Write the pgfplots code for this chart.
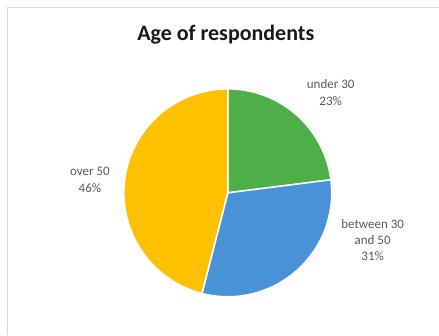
\documentclass[border=0pt]{standalone}
\usepackage{pgfplots}
\pgfplotsset{compat=1.18}
\usepackage{fontspec}
\setmainfont{Carlito}
\definecolor{pgreen}{RGB}{76,175,72}
\definecolor{pblue}{RGB}{74,146,216}
\definecolor{pyellow}{RGB}{255,192,0}
\definecolor{ptext}{RGB}{89,89,89}
\definecolor{pframe}{RGB}{217,217,217}
% shares in percent
\def\vA{23}% under 30
\def\vB{31}% between 30 and 50
\def\vC{46}% over 50
\begin{document}
\begin{tikzpicture}
\begin{axis}[x=1pt,y=1pt,xmin=0,xmax=439,ymin=0,ymax=335,hide axis,clip=false]
\path (axis cs:0,0) rectangle (axis cs:439,335);
\draw[pframe,line width=0.8pt] (axis cs:7,0) -- (axis cs:7,328) -- (axis cs:439,328);
\addplot[fill=pgreen,draw=white,line width=1.5pt,domain={90-3.6*\vA}:90,samples=80]
  ({228+104*cos(x)},{142+104*sin(x)}) -- (axis cs:228,142) -- cycle;
\addplot[fill=pblue,draw=white,line width=1.5pt,domain={90-3.6*(\vA+\vB)}:{90-3.6*\vA},samples=80]
  ({228+104*cos(x)},{142+104*sin(x)}) -- (axis cs:228,142) -- cycle;
\addplot[fill=pyellow,draw=white,line width=1.5pt,domain={90-3.6*(\vA+\vB+\vC)}:{90-3.6*(\vA+\vB)},samples=80]
  ({228+104*cos(x)},{142+104*sin(x)}) -- (axis cs:228,142) -- cycle;
\node[font=\fontsize{22}{26}\selectfont\bfseries,text=black!90] at (axis cs:226,300) {Age of respondents};
\node[font=\fontsize{13}{17}\selectfont,text=ptext,inner sep=0pt] at (axis cs:331,241.5) {\begin{tabular}{@{}c@{}}under 30\\23\%\end{tabular}};
\node[font=\fontsize{13}{17}\selectfont,text=ptext,inner sep=0pt] at (axis cs:90,154.5) {\begin{tabular}{@{}c@{}}over 50\\46\%\end{tabular}};
\node[font=\fontsize{13}{16}\selectfont,text=ptext,inner sep=0pt] at (axis cs:373,93) {\begin{tabular}{@{}c@{}}between 30\\and 50\\31\%\end{tabular}};
\end{axis}
\end{tikzpicture}
\end{document}
